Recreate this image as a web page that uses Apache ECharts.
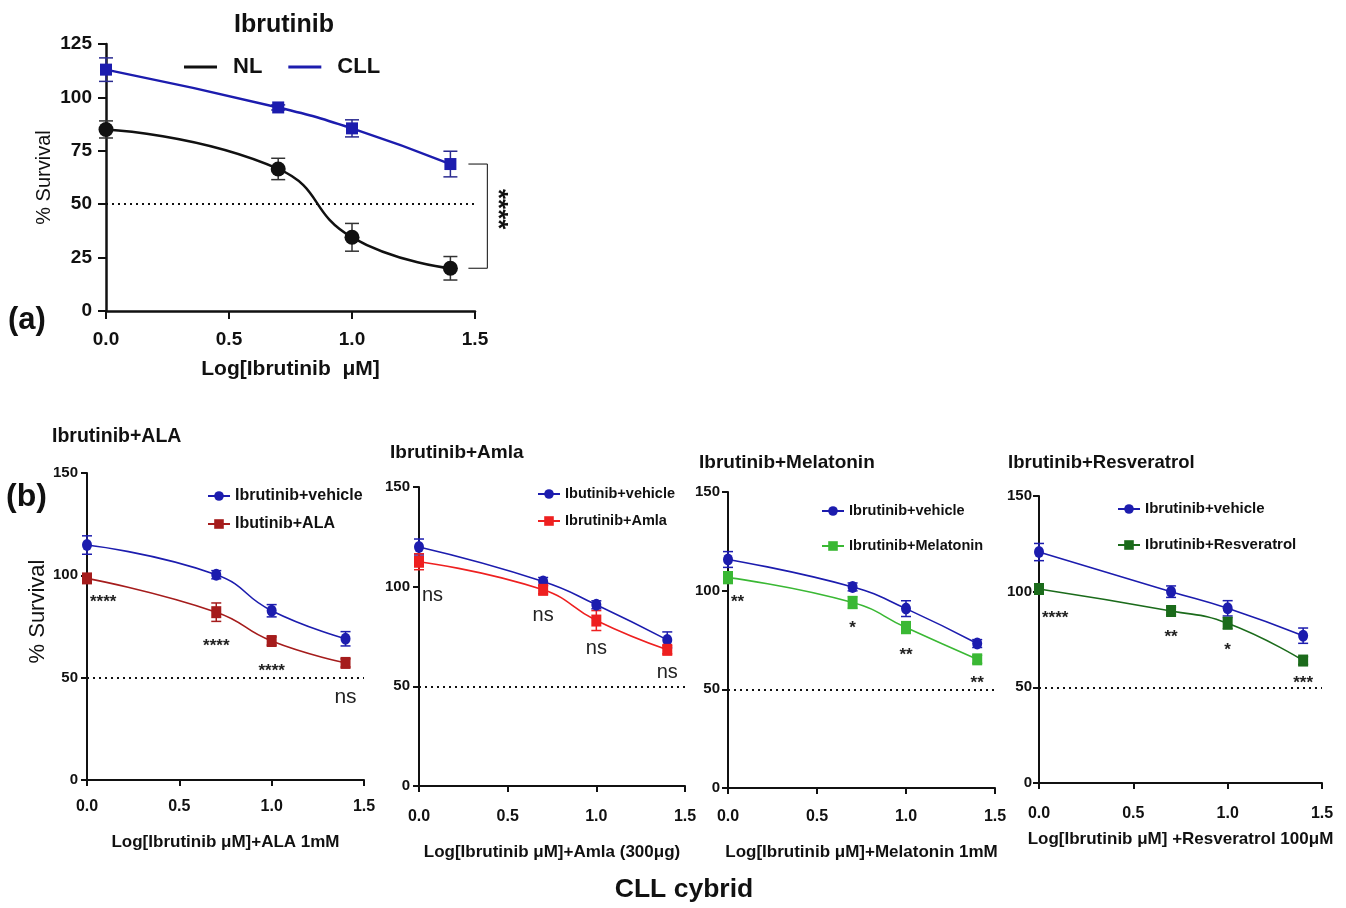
<!DOCTYPE html>
<html><head><meta charset="utf-8">
<script src="https://cdn.jsdelivr.net/npm/echarts@6/dist/echarts.min.js"></script>
<style>html,body{margin:0;padding:0;background:#fff;} #c{width:1346px;height:908px;}</style>
</head><body><div id="c"></div>
<script>
// ---------- data ----------
const doses = [0, 0.7, 1.0, 1.4];
const xTicks = ['0.0', '0.5', '1.0', '1.5'];
const yTicksA = ['0', '25', '50', '75', '100', '125'];
const yTicksB = ['0', '50', '100', '150'];

// panel (a)
const nlMean = [85, 66.5, 34.5, 20];
const nlErr = [4, 5, 6.5, 5.5];
const cllMean = [113, 95.3, 85.5, 68.8];
const cllErr = [5.5, 1.2, 4, 6];

// panel (b) ALA
const alaVehMean = [114.8, 100.3, 82.7, 69];
const alaVehErr = [4.5, 2, 3, 3.5];
const alaMean = [98.5, 82, 67.9, 57.2];
const alaErr = [2, 4.5, 2, 2];
const alaSig = ['****', '****', '****', 'ns'];
const alaSigY = [89, 67.5, 55, 40.5];

// Amla
const amlaVehMean = [119.9, 102.6, 90.9, 73.3];
const amlaVehErr = [4, 2, 2, 4];
const amlaMean = [112.5, 98.4, 83, 68.3];
const amlaErr = [4, 2, 5, 2];
const amlaSig = ['ns', 'ns', 'ns', 'ns'];
const amlaSigY = [95.5, 85.5, 69, 57];

// Melatonin
const melVehMean = [115.8, 101.9, 90.9, 73.2];
const melVehErr = [4, 2, 4, 2];
const melMean = [106.6, 94, 81.3, 65.2];
const melErr = [3, 3, 3, 2];
const melSig = ['**', '*', '**', '**'];
const melSigY = [96, 83, 69.5, 55];

// Resveratrol
const resVehMean = [120.7, 100, 91.3, 77];
const resVehErr = [4.5, 3, 4, 4];
const resMean = [101.4, 89.9, 83.5, 64];
const resErr = [2, 2, 3, 2];
const resSig = ['****', '**', '*', '***'];
const resSigY = [88, 78, 71.5, 54];

// ---------- styling ----------
const ARIAL = "'Liberation Sans',Arial,sans-serif";
const BLUE = '#1c1cae';
const C_ALA = '#a51c1c';
const C_AMLA = '#ee2020';
const C_MEL = '#3ab834';
const C_RES = '#1b6b1b';

const grids = [
  {left: 106, top: 44, width: 369, height: 267},
  {left: 87, top: 473, width: 277, height: 307},
  {left: 419, top: 487, width: 266, height: 299},
  {left: 728, top: 492, width: 267, height: 296},
  {left: 1039, top: 496, width: 283, height: 287}
];

function xAxis(gi, name, nameGap, size, nameSize, margin) {
  return {
    type: 'value', gridIndex: gi, min: 0, max: 1.5, interval: 0.5,
    name: name, nameLocation: 'middle', nameGap: nameGap,
    nameTextStyle: {fontFamily: ARIAL, fontWeight: 'bold', fontSize: nameSize, color: '#111'},
    axisLine: {show: true, onZero: false, lineStyle: {color: '#111', width: gi === 0 ? 2.5 : 2}},
    axisTick: {show: true, length: gi === 0 ? 8 : 6, lineStyle: {color: '#111', width: 2}},
    axisLabel: {margin: margin, fontFamily: ARIAL, fontWeight: 'bold', fontSize: size, color: '#111',
      formatter: v => xTicks[Math.round(v / 0.5)]},
    splitLine: {show: false}
  };
}
function yAxis(gi, max, interval, ticks, name, nameGap, size, margin, nameSize, namePad) {
  return {
    type: 'value', gridIndex: gi, min: 0, max: max, interval: interval,
    name: name, nameLocation: 'middle', nameGap: nameGap, nameRotate: 90,
    nameTextStyle: {fontFamily: ARIAL, fontWeight: 'normal', fontSize: nameSize, color: '#111',
      padding: namePad || 0},
    axisLine: {show: true, lineStyle: {color: '#111', width: gi === 0 ? 2.5 : 2}},
    axisTick: {show: true, length: gi === 0 ? 8 : 6, lineStyle: {color: '#111', width: 2}},
    axisLabel: {margin: margin, fontFamily: ARIAL, fontWeight: 'bold', fontSize: size, color: '#111',
      formatter: v => ticks[Math.round(v / interval)]},
    splitLine: {show: false}
  };
}

function lineSeries(gi, name, means, color, symbol, size, lw, withRef) {
  const s = {
    type: 'line', name: name, xAxisIndex: gi, yAxisIndex: gi,
    data: doses.map((d, i) => [d, means[i]]),
    smooth: 0.5, clip: false, z: 4,
    symbol: symbol, symbolSize: size,
    lineStyle: {color: color, width: lw},
    itemStyle: {color: color, opacity: 1}
  };
  if (withRef) {
    s.markLine = {
      silent: true, symbol: 'none', animation: false,
      label: {show: false},
      lineStyle: {type: [2, 4], color: '#111', width: 2},
      data: [{yAxis: 50}]
    };
  }
  return s;
}

function errSeries(gi, means, errs, color, capW, lw) {
  return {
    type: 'custom', xAxisIndex: gi, yAxisIndex: gi, silent: true, clip: false, z: 3,
    data: doses.map((d, i) => [d, means[i], errs[i]]),
    encode: {x: 0, y: 1},
    renderItem(params, api) {
      const x = api.value(0), m = api.value(1), e = api.value(2);
      const t = api.coord([x, m + e]), b = api.coord([x, m - e]);
      const h = capW / 2;
      const st = {stroke: color, lineWidth: lw};
      return {type: 'group', children: [
        {type: 'line', shape: {x1: t[0], y1: t[1], x2: b[0], y2: b[1]}, style: st},
        {type: 'line', shape: {x1: t[0] - h, y1: t[1], x2: t[0] + h, y2: t[1]}, style: st},
        {type: 'line', shape: {x1: b[0] - h, y1: b[1], x2: b[0] + h, y2: b[1]}, style: st}
      ]};
    }
  };
}

function sigSeries(gi, labels, ys, nsSize) {
  return {
    type: 'custom', xAxisIndex: gi, yAxisIndex: gi, silent: true, clip: false, z: 6,
    data: doses.map((d, i) => [d, ys[i]]),
    encode: {x: 0, y: 1},
    renderItem(params, api) {
      const i = params.dataIndex;
      const p = api.coord([api.value(0), api.value(1)]);
      const txt = labels[i];
      const isStar = txt.indexOf('*') >= 0;
      return {
        type: 'text', x: p[0] + (i === 0 ? 3 : 0), y: p[1] + (isStar ? 4 : 0),
        style: {
          text: txt, fill: '#222',
          align: i === 0 ? 'left' : 'center', verticalAlign: 'middle',
          fontFamily: ARIAL,
          fontWeight: isStar ? 'bold' : 'normal',
          fontSize: isStar ? 17 : nsSize
        }
      };
    }
  };
}

// bracket for panel (a)
const bracketSeries = {
  type: 'custom', xAxisIndex: 0, yAxisIndex: 0, silent: true, clip: false, z: 6,
  data: [[doses[3], cllMean[3], nlMean[3]]],
  encode: {x: 0, y: 1},
  renderItem(params, api) {
    const a = api.coord([api.value(0), api.value(1)]);
    const b = api.coord([api.value(0), api.value(2)]);
    const x1 = a[0] + 18, x2 = a[0] + 37;
    const st = {stroke: '#333', lineWidth: 1.2};
    return {type: 'group', children: [
      {type: 'line', shape: {x1: x1, y1: a[1], x2: x2, y2: a[1]}, style: st},
      {type: 'line', shape: {x1: x2, y1: a[1], x2: x2, y2: b[1]}, style: st},
      {type: 'line', shape: {x1: x1, y1: b[1], x2: x2, y2: b[1]}, style: st},
      {type: 'text', x: x2 + 10, y: (a[1] + b[1]) / 2 - 7, rotation: -Math.PI / 2,
        style: {text: '****', fill: '#111', fontFamily: ARIAL, fontWeight: 'bold', fontSize: 26,
          align: 'center', verticalAlign: 'middle'}}
    ]};
  }
};

function legendB(names, left, top, gap, size) {
  return {
    data: names, orient: 'vertical', left: left, top: top,
    itemWidth: 22, itemHeight: 12, itemGap: gap, selectedMode: false,
    textStyle: {fontFamily: ARIAL, fontWeight: 'bold', fontSize: size, color: '#111', lineHeight: 20}
  };
}

const titleStyle = (size) => ({fontFamily: ARIAL, fontWeight: 'bold', fontSize: size, color: '#111'});

const option = {
  animation: false,
  backgroundColor: '#fff',
  title: [
    {text: 'Ibrutinib', left: 284, top: 13, textAlign: 'center', padding: 0, textStyle: titleStyle(25)},
    {text: '(a)', left: 8, top: 305, padding: 0, textStyle: titleStyle(31)},
    {text: '(b)', left: 6, top: 481, padding: 0, textStyle: titleStyle(32)},
    {text: 'Ibrutinib+ALA', left: 52, top: 427, padding: 0, textStyle: titleStyle(19.5)},
    {text: 'Ibrutinib+Amla', left: 390, top: 443, padding: 0, textStyle: titleStyle(19)},
    {text: 'Ibrutinib+Melatonin', left: 699, top: 453, padding: 0, textStyle: titleStyle(19)},
    {text: 'Ibrutinib+Resveratrol', left: 1008, top: 453, padding: 0, textStyle: titleStyle(18.5)},
    {text: 'CLL cybrid', left: 684, top: 876, textAlign: 'center', padding: 0, textStyle: titleStyle(26.5)}
  ],
  legend: [
    {data: ['NL', 'CLL'], left: 179, top: 51, icon: 'rect', itemWidth: 33, itemHeight: 3, itemGap: 26,
      selectedMode: false,
      textStyle: {fontFamily: ARIAL, fontWeight: 'bold', fontSize: 22, color: '#111', padding: [0, 0, 0, 11]}},
    legendB(['Ibrutinib+vehicle', 'Ibutinib+ALA'], 202, 481, 8, 16),
    legendB(['Ibutinib+vehicle', 'Ibrutinib+Amla'], 532, 479, 7, 14.5),
    legendB(['Ibrutinib+vehicle ', 'Ibrutinib+Melatonin'], 816, 496, 15, 14.5),
    legendB(['Ibrutinib+vehicle  ', 'Ibrutinib+Resveratrol'], 1112, 494, 16, 15)
  ],
  grid: grids,
  xAxis: [
    xAxis(0, 'Log[Ibrutinib  μM]', 48, 19, 21, 19),
    xAxis(1, 'Log[Ibrutinib μM]+ALA 1mM', 54, 16, 17, 19),
    xAxis(2, 'Log[Ibrutinib μM]+Amla (300μg)', 58, 16, 17, 23),
    xAxis(3, 'Log[Ibrutinib μM]+Melatonin 1mM', 56, 16, 17, 21),
    xAxis(4, 'Log[Ibrutinib μM] +Resveratrol 100μM', 48, 16, 17, 23)
  ],
  yAxis: [
    yAxis(0, 125, 25, yTicksA, '% Survival', 52, 19, 14, 20),
    yAxis(1, 150, 50, yTicksB, '% Survival', 37, 15, 9, 22, [0, 0, 0, 30]),
    yAxis(2, 150, 50, yTicksB, '', 0, 15, 9, 20),
    yAxis(3, 150, 50, yTicksB, '', 0, 15, 8, 20),
    yAxis(4, 150, 50, yTicksB, '', 0, 15, 7, 20)
  ],
  series: [
    // (a)
    errSeries(0, nlMean, nlErr, '#333', 14, 1.5),
    errSeries(0, cllMean, cllErr, '#2a2a90', 14, 1.5),
    lineSeries(0, 'NL', nlMean, '#111', 'circle', 15, 2.5, true),
    lineSeries(0, 'CLL', cllMean, BLUE, 'rect', 12, 2.5, false),
    bracketSeries,
    // ALA
    errSeries(1, alaVehMean, alaVehErr, BLUE, 10, 1.5),
    errSeries(1, alaMean, alaErr, C_ALA, 10, 1.5),
    lineSeries(1, 'Ibrutinib+vehicle', alaVehMean, BLUE, 'circle', [10, 12], 1.6, true),
    lineSeries(1, 'Ibutinib+ALA', alaMean, C_ALA, 'rect', [10, 12], 1.6, false),
    sigSeries(1, alaSig, alaSigY, 21),
    // Amla
    errSeries(2, amlaVehMean, amlaVehErr, BLUE, 10, 1.5),
    errSeries(2, amlaMean, amlaErr, C_AMLA, 10, 1.5),
    lineSeries(2, 'Ibutinib+vehicle', amlaVehMean, BLUE, 'circle', [10, 12], 1.6, true),
    lineSeries(2, 'Ibrutinib+Amla', amlaMean, C_AMLA, 'rect', [10, 12], 1.6, false),
    sigSeries(2, amlaSig, amlaSigY, 20),
    // Melatonin
    errSeries(3, melVehMean, melVehErr, BLUE, 10, 1.5),
    errSeries(3, melMean, melErr, C_MEL, 10, 1.5),
    lineSeries(3, 'Ibrutinib+vehicle ', melVehMean, BLUE, 'circle', [10, 12], 1.6, true),
    lineSeries(3, 'Ibrutinib+Melatonin', melMean, C_MEL, 'rect', [10, 12], 1.6, false),
    sigSeries(3, melSig, melSigY, 20),
    // Resveratrol
    errSeries(4, resVehMean, resVehErr, BLUE, 10, 1.5),
    errSeries(4, resMean, resErr, C_RES, 10, 1.5),
    lineSeries(4, 'Ibrutinib+vehicle  ', resVehMean, BLUE, 'circle', [10, 12], 1.6, true),
    lineSeries(4, 'Ibrutinib+Resveratrol', resMean, C_RES, 'rect', [10, 12], 1.6, false),
    sigSeries(4, resSig, resSigY, 20)
  ]
};

const chart = echarts.init(document.getElementById('c'), null, {renderer: 'canvas'});
chart.setOption(option);
</script>
</body></html>
